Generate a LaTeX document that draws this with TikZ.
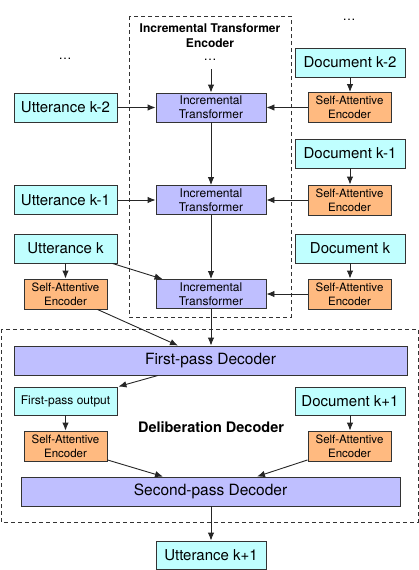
\documentclass[tikz,border=0pt]{standalone}
\usepackage{fontspec}
\setmainfont{TeX Gyre Heros}
\usetikzlibrary{arrows.meta,calc}
\definecolor{cyanfill}{HTML}{C0FFFF}
\definecolor{purpfill}{HTML}{BFBFFF}
\definecolor{orangefill}{HTML}{FFBA80}
\definecolor{edge}{HTML}{333333}
\tikzset{
  box/.style={draw=edge, line width=0.9pt, inner sep=0pt, align=center},
  cbox/.style={box, fill=cyanfill, minimum width=103pt, minimum height=29pt, font=\fontsize{15}{17}\selectfont},
  dbox/.style={cbox, minimum width=110pt},
  ibox/.style={box, fill=purpfill, minimum width=110pt, minimum height=29pt, font=\fontsize{12}{14.3}\selectfont},
  sbox/.style={box, fill=orangefill, minimum width=83pt, minimum height=30pt, font=\fontsize{11.5}{14}\selectfont},
  pbox/.style={box, fill=purpfill, minimum height=29pt, font=\fontsize{15.5}{18}\selectfont},
  arr/.style={-{Latex[length=8pt,width=6.5pt]}, line width=0.9pt, draw=black!85},
  dbound/.style={draw=black!80, line width=0.9pt, dash pattern=on 4pt off 3pt},
  dotsty/.style={inner sep=0pt, font=\fontsize{13}{13}\selectfont},
}
\begin{document}
\begin{tikzpicture}[x=1pt,y=-1pt]
\useasboundingbox (0,0) rectangle (419,570);
% dashed groups
\draw[dbound] (129,16) rectangle (291,317);
\draw[dbound] (1,329) rectangle (418,522);
\node[font=\bfseries\fontsize{12}{14.5}\selectfont, align=center, inner sep=0pt] (enctitle) at (210,35.5) {Incremental Transformer\\Encoder};
\node[font=\bfseries\fontsize{14.5}{17}\selectfont, inner sep=0pt] (deltitle) at (211,427) {Deliberation Decoder};
% dots
\node[dotsty] (dotsmid) at (210,59.5) {\dots};
\node[dotsty] (dotsleft) at (65,59) {\dots};
\node[dotsty] (dotsright) at (349,20) {\dots};
\coordinate (itin) at (211,69);
% row 1
\node[dbox] (dk2) at (350,62.5) {Document k-2};
\node[cbox] (uk2) at (65.5,107.5) {Utterance k-2};
\node[ibox] (it1) at (211,107.5) {Incremental\\Transformer};
\node[sbox] (sr1) at (349.5,107.5) {Self-Attentive\\Encoder};
% row 2
\node[dbox] (dk1) at (350,153.5) {Document k-1};
\node[cbox] (uk1) at (65.5,200) {Utterance k-1};
\node[ibox] (it2) at (211,200) {Incremental\\Transformer};
\node[sbox] (sr2) at (349.5,200) {Self-Attentive\\Encoder};
% row 3
\node[cbox] (uk) at (65.5,248.5) {Utterance k};
\node[dbox] (dk) at (350,248.5) {Document k};
\node[sbox] (sl3) at (65.5,294) {Self-Attentive\\Encoder};
\node[ibox] (it3) at (211,294) {Incremental\\Transformer};
\node[sbox] (sr3) at (349.5,294) {Self-Attentive\\Encoder};
% deliberation
\node[pbox, minimum width=393pt] (fpd) at (210.5,360.5) {First-pass Decoder};
\node[cbox, font=\fontsize{12}{14}\selectfont, minimum height=28pt] (fpo) at (65.5,401) {First-pass output};
\node[dbox, minimum height=28pt] (dkp1) at (350,401) {Document k+1};
\node[sbox] (sl4) at (65.5,446) {Self-Attentive\\Encoder};
\node[sbox] (sr4) at (349.5,446) {Self-Attentive\\Encoder};
\node[pbox, minimum width=379pt] (spd) at (210.5,491.5) {Second-pass Decoder};
\node[dbox, minimum height=28pt] (ukp1) at (211,555) {Utterance k+1};
% connectors
\draw[arr] (itin) -- (it1);
\draw[arr] (uk2) -- (it1);
\draw[arr] (sr1) -- (it1);
\draw[arr] (dk2) -- (dk2 |- sr1.north);
\draw[arr] (it1) -- (it2);
\draw[arr] (uk1) -- (it2);
\draw[arr] (sr2) -- (it2);
\draw[arr] (dk1) -- (dk1 |- sr2.north);
\draw[arr] (it2) -- (it3);
\draw[arr] (uk) -- (sl3);
\draw[arr] ($(uk.south east)+(-5,0)$) -- ($(it3.north west)+(7,0)$);
\draw[arr] (dk) -- (dk |- sr3.north);
\draw[arr] (sr3) -- (it3);
\draw[arr] ($(sl3.south east)+(-10,0)$) -- ($(fpd.north)+(-32.5,0)$);
\draw[arr] (it3) -- (it3 |- fpd.north);
\draw[arr] ($(fpd.south)+(-52.5,0)$) -- ($(fpo.north east)+(1,0)$);
\draw[arr] (fpo) -- (sl4);
\draw[arr] (dkp1) -- (dkp1 |- sr4.north);
\draw[arr] ($(sl4.south east)+(0,-1.5)$) -- ($(spd.north)+(-47.5,0)$);
\draw[arr] ($(sr4.south west)+(0,-1.5)$) -- ($(spd.north)+(46.5,0)$);
\draw[arr] (spd.south -| ukp1) -- (ukp1);
\end{tikzpicture}
\end{document}
